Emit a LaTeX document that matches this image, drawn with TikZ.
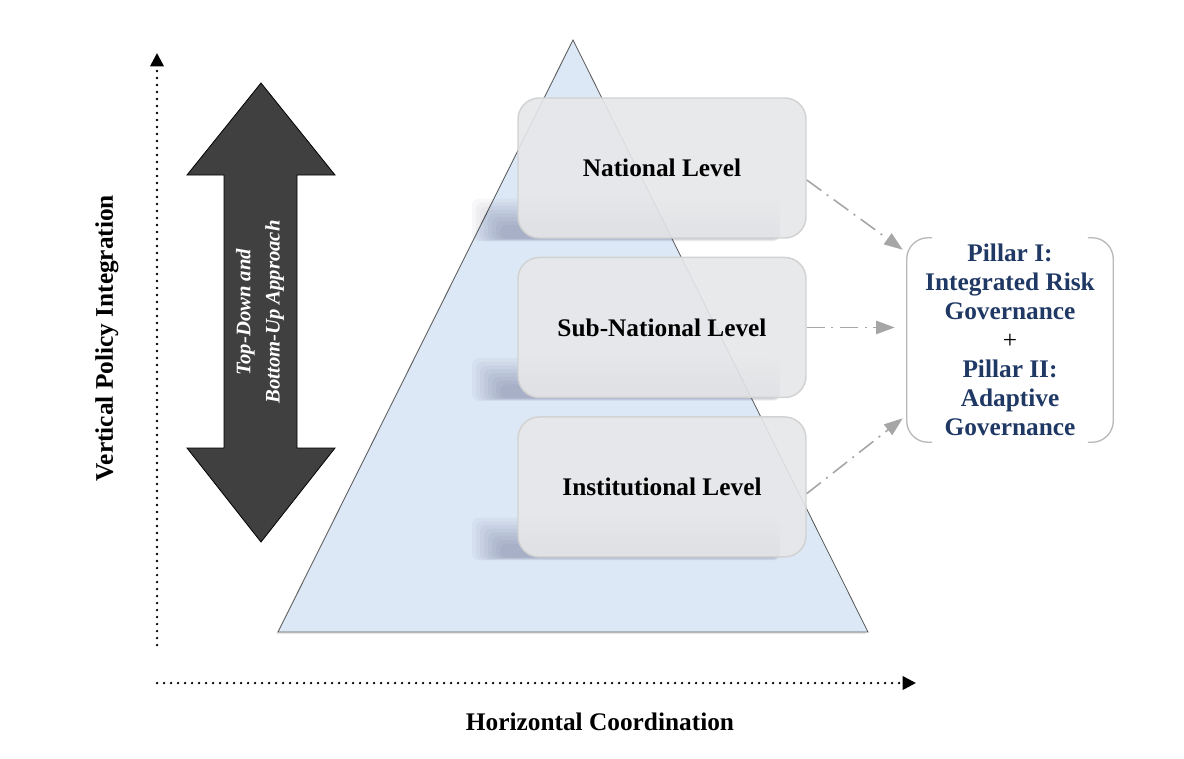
\documentclass[tikz,border=0pt]{standalone}
\usepackage{fontspec}
\setmainfont{Liberation Serif}
\usetikzlibrary{positioning,arrows.meta,shadows,calc}

\definecolor{pyramidfill}{RGB}{220,232,246}
\definecolor{levelfill}{RGB}{230,231,233}
\definecolor{pillartext}{RGB}{31,56,100}
\definecolor{linkgray}{RGB}{166,166,166}
\definecolor{updownfill}{RGB}{64,64,64}

\pgfdeclarelayer{pyramidlayer}
\pgfdeclarelayer{shadelayer}
\pgfsetlayers{pyramidlayer,shadelayer,main}

\begin{document}
\begin{tikzpicture}[
    x=0.75pt, y=-0.75pt,
    font=\fontsize{19}{22}\selectfont\bfseries,
    pyramid/.style={
        fill=pyramidfill,
        draw=gray!70!black,
        line width=0.6pt,
        drop shadow={shadow xshift=-1.5pt, shadow yshift=-1.5pt, opacity=0.18}
    },
    level/.style={
        draw=gray!35,
        line width=1.1pt,
        rounded corners=16pt,
        fill=levelfill,
        fill opacity=0.9,
        text opacity=1,
        minimum width=216pt,
        minimum height=105pt,
        align=center
    },
    levelshade/.style={fill=black!80!blue, opacity=0.03, rounded corners=5pt},
    pillar/.style={
        text=pillartext,
        align=center,
        minimum width=154.5pt,
        minimum height=153pt,
        font=\fontsize{19}{21.75}\selectfont\bfseries
    },
    bracket/.style={draw=gray!55, line width=1pt, rounded corners=16pt},
    link/.style={
        draw=linkgray,
        line width=1.2pt,
        dash pattern=on 13.5pt off 5pt on 1.5pt off 5pt,
        -{Triangle[length=14pt,width=10pt]}
    },
    updown/.style={draw=black, line width=0.6pt, fill=updownfill},
    updowntext/.style={
        rotate=90,
        text=white,
        align=center,
        font=\fontsize{15.5}{22}\selectfont\bfseries\itshape
    },
    axis/.style={
        line width=1.9pt,
        line cap=round,
        dash pattern=on 0pt off 5.25pt,
        -{Triangle[length=10pt,width=10pt]}
    },
    axislabel/.style={font=\fontsize{19}{22}\selectfont\bfseries}
]
\useasboundingbox (0,0) rectangle (1184,758);

% ============================================================
% AXES
% ============================================================
\coordinate (yfoot) at (157,645);
\coordinate (ytip) at (157,53);
\coordinate (xfoot) at (157,683);
\coordinate (xtip) at (916,683);

\draw[axis] (yfoot) -- (ytip);
\draw[axis] (xfoot) -- (xtip);

\node[axislabel, rotate=90] (vlab) at (107,338) {Vertical Policy Integration};
\node[axislabel] (hlab) at (600,722) {Horizontal Coordination};

% ============================================================
% PYRAMID
% ============================================================
\begin{pgfonlayer}{pyramidlayer}
\draw[pyramid] (573,40) -- (868,632) -- (278,632) -- cycle;
\end{pgfonlayer}

% ============================================================
% GOVERNANCE LEVELS
% ============================================================
\node[level] (nat) at (662,168) {National Level};
\node[level, below=13.5pt of nat] (sub) {Sub-National Level};
\node[level, below=13.5pt of sub] (inst) {Institutional Level};

% soft shadows at the lower left of each level
\begin{pgfonlayer}{shadelayer}
\foreach \lv in {nat,sub,inst}
  \foreach \d in {0,2,...,14}
    \fill[levelshade] ([xshift=-34pt+1.5*\d pt, yshift=-2pt+0.15*\d pt]\lv.south west)
        rectangle ([xshift=-20pt, yshift=30pt-1.4*\d pt]\lv.south east);
\end{pgfonlayer}

% ============================================================
% PILLARS
% ============================================================
\node[pillar] (pil) at (1010,340) {Pillar I:\\Integrated Risk\\Governance\\{\normalfont\color{black}+}\\Pillar II:\\Adaptive\\Governance};

\draw[bracket] ([xshift=19pt]pil.north west) -- (pil.north west) -- (pil.south west) -- ([xshift=19pt]pil.south west);
\draw[bracket] ([xshift=-19pt]pil.north east) -- (pil.north east) -- (pil.south east) -- ([xshift=-19pt]pil.south east);

\draw[link] ([yshift=-9pt]nat.east) -- ([xshift=-3pt,yshift=-9pt]pil.north west);
\draw[link] (sub.east) -- ([xshift=-9pt]sub.east -| pil.west);
\draw[link] ([yshift=-5pt]inst.east) -- ([xshift=-3pt,yshift=18pt]pil.south west);

% ============================================================
% TOP-DOWN / BOTTOM-UP
% ============================================================
\draw[updown] (261,83) -- (335,175) -- (297,175) -- (297,448) -- (335,448)
    -- (261,542) -- (187,448) -- (224,448) -- (224,175) -- (187,175) -- cycle;
\node[updowntext] (vert) at (260,312) {Top-Down and\\Bottom-Up Approach};

\end{tikzpicture}
\end{document}
